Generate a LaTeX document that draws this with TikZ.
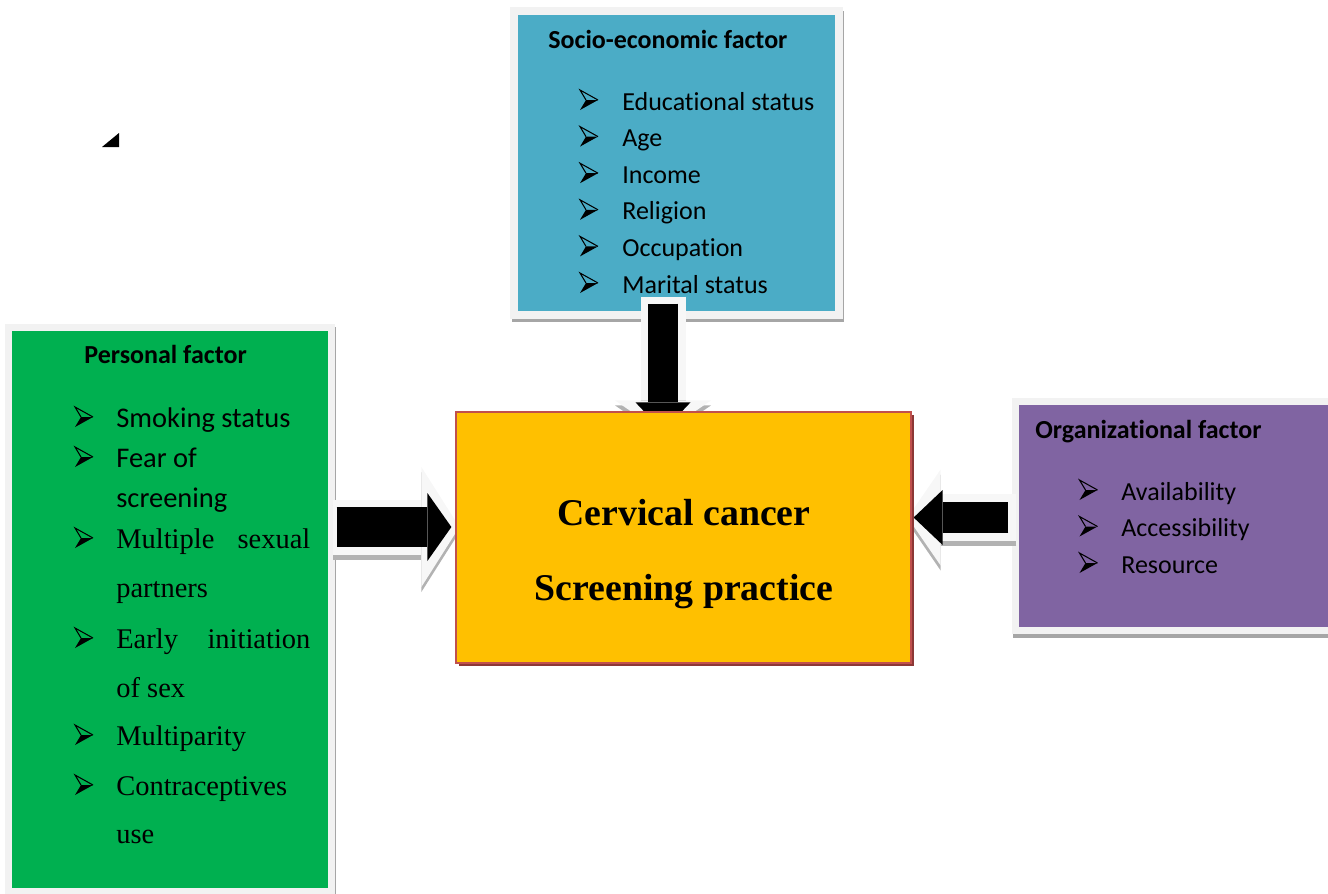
\documentclass[tikz,border=0pt]{standalone}
\usepackage{fontspec}
\setmainfont{Carlito}[Ligatures=NoCommon]
\newfontfamily\timesfont{Liberation Serif}
\usetikzlibrary{arrows.meta, positioning, calc, shadows}

\definecolor{socblue}{HTML}{4BACC6}
\definecolor{persgreen}{HTML}{00B050}
\definecolor{orgpurple}{HTML}{8064A2}
\definecolor{coregold}{HTML}{FFC000}
\definecolor{coreedge}{HTML}{C0504D}
\definecolor{coreshade}{HTML}{8C3836}

\pgfdeclarelayer{back}
\pgfsetlayers{back,main}

\begin{document}
\begin{tikzpicture}[x=0.2mm, y=-0.2mm,
    factor/.style={rectangle, draw=black!5, line width=4pt, inner sep=0pt,
      drop shadow={shadow xshift=0.6pt, shadow yshift=-2pt, fill=black!35,
        draw=black!35, line width=4pt, opacity=1}},
    head/.style={anchor=base west, inner sep=0pt, font=\bfseries\fontsize{14.8}{18}\selectfont},
    item/.style={anchor=base west, inner sep=0pt, font=\fontsize{14.8}{18}\selectfont},
    bigitem/.style={anchor=base west, inner sep=0pt, font=\fontsize{16.2}{19}\selectfont},
    seritem/.style={anchor=base west, inner sep=0pt, font=\timesfont\fontsize{16.2}{19}\selectfont},
    title/.style={anchor=base, inner sep=0pt, font=\timesfont\bfseries\fontsize{21.5}{26}\selectfont},
    fatrim/.style={draw=black!3, line width=11mm,
      -{Triangle[length=7.6mm, width=24mm, line width=0pt]}},
    fatcore/.style={draw=black, line width=8mm,
      -{Triangle[length=4.8mm, width=13.6mm, line width=0pt]}},
    thinrim/.style={draw=black!3, line width=9.4mm,
      -{Triangle[length=6.6mm, width=19.2mm, line width=0pt]}},
    thincore/.style={draw=black, line width=6.2mm,
      -{Triangle[length=5.8mm, width=11mm, line width=0pt]}},
    rimshadow/.style={draw=black!30, transform canvas={yshift=-1mm}},
    bul/.pic={
      \fill (-3,0) -- (9,0) -- (-9,10) -- cycle;
      \draw[line width=0.6pt, line join=miter] (-3,0) -- (-9,-10) -- (9,0);
    }]
  \useasboundingbox (0,0) rectangle (1328,893);

  % --- Central box ---
  \node[rectangle, fill=coregold, draw=coreedge, line width=0.7pt,
    minimum width=91mm, minimum height=50.2mm,
    drop shadow={shadow xshift=1.5pt, shadow yshift=-1.5pt, fill=coreshade, opacity=1}]
    (core) at (683.5,537.5) {};
  \node[title] (ctop) at (684,525) {Cervical cancer};
  \node[title] (cbot) at (684,600) {Screening practice};

  \begin{pgfonlayer}{back}
    % --- Socio-economic factor ---
    \node[factor, fill=socblue, minimum width=65mm, minimum height=60.8mm]
      (soc) at (676.5,163) {};
    \node[head] (sochead) at (548,49) {Socio-economic factor};
    \foreach \txt [count=\i] in {Educational status, Age, Income, Religion,
        Occupation, Marital status} {
      \node[item] (soc\i) at (622,73.4+36.6*\i) {\txt};
      \pic at (589,63.4+36.6*\i) {bul};
    }

    % --- Personal factor ---
    \node[factor, fill=persgreen, minimum width=64.6mm, minimum height=112.8mm]
      (pers) at (170,609.5) {};
    \node[head] (pershead) at (84,363) {Personal factor};
    \node[bigitem] (pers1) at (116,427) {Smoking status};
    \node[bigitem] (pers2) at (116,467) {Fear of};
    \node[bigitem] (pers2b) at (116,507) {screening};
    \node[seritem] (pers3) at (116,548) {\makebox[38.8mm][s]{Multiple sexual}};
    \node[seritem] (pers3b) at (116,597) {partners};
    \node[seritem] (pers4) at (116,648) {\makebox[38.8mm][s]{Early initiation}};
    \node[seritem] (pers4b) at (116,697) {of sex};
    \node[seritem] (pers5) at (116,745) {Multiparity};
    \node[seritem] (pers6) at (116,795) {Contraceptives};
    \node[seritem] (pers6b) at (116,843) {use};
    \foreach \y in {417,457,538,638,735,785}
      \pic at (84,\y) {bul};

    % --- Organizational factor ---
    \node[factor, fill=orgpurple, minimum width=64.2mm, minimum height=45.8mm]
      (org) at (1176,516) {};
    \node[head] (orghead) at (1035,438) {Organizational factor};
    \foreach \txt [count=\i] in {Availability, Accessibility, Resource} {
      \node[item] (org\i) at (1121,463.5+36.5*\i) {\txt};
      \pic at (1088.5,453.5+36.5*\i) {bul};
    }

    % --- Block arrows into the central box ---
    \coordinate (pa) at ($(pers.east)+(1.5,-82.5)$);
    \coordinate (pb) at ($(core.west)+(-4,-10.5)$);
    \draw[fatrim, rimshadow, shorten <=-0.8mm, shorten >=-1.6mm] (pa) -- (pb);
    \draw[fatrim, shorten <=-0.8mm, shorten >=-1.6mm] (pa) -- (pb);
    \draw[fatcore] (pa) -- (pb);

    \coordinate (oa) at ($(org.west)+(-3.5,1.5)$);
    \coordinate (ob) at ($(core.east)+(2,-20)$);
    \draw[thinrim, rimshadow, shorten <=-1.6mm, shorten >=-1.2mm] (oa) -- (ob);
    \draw[thinrim, shorten <=-1.6mm, shorten >=-1.2mm] (oa) -- (ob);
    \draw[thincore] (oa) -- (ob);

    \coordinate (sa) at ($(soc.south)+(-13.5,-15)$);
    \coordinate (sb) at ($(core.north)+(-20.5,20)$);
    \draw[thinrim, line width=9mm, rimshadow, shorten <=-1.4mm, shorten >=-0.4mm] (sa) -- (sb);
    \draw[thinrim, line width=9mm, shorten <=-1.4mm, shorten >=-0.4mm] (sa) -- (sb);
    \draw[thincore, line width=6mm] (sa) -- (sb);

    % stray mark
    \fill (102,147) -- (119,147) -- (119,133) -- cycle;
  \end{pgfonlayer}
\end{tikzpicture}
\end{document}
